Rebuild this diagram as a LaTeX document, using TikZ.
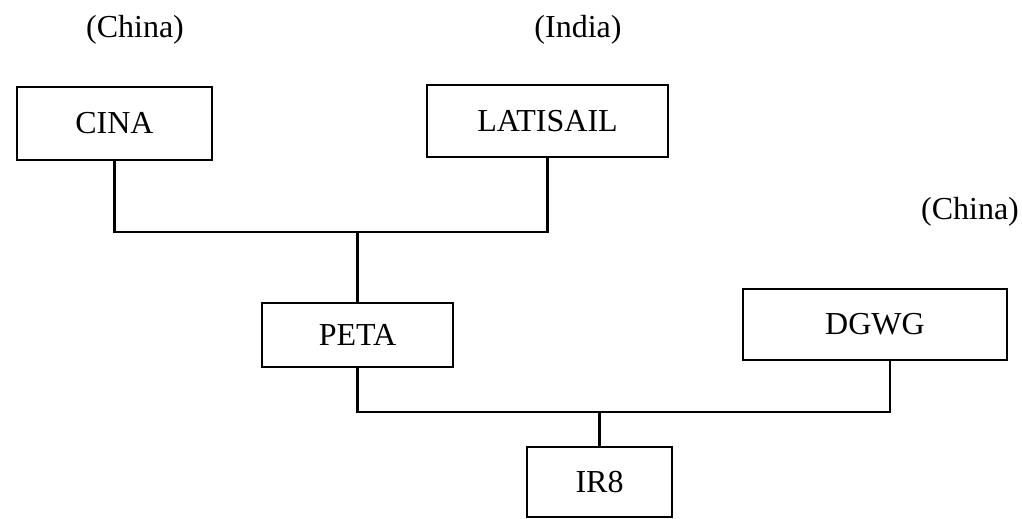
\documentclass[tikz,border=0pt]{standalone}
\usepackage{fontspec}
\setmainfont{Liberation Serif}
\usepackage{tikz}
\tikzset{
    variety/.style={rectangle, draw, line width=2.2pt, inner sep=0pt, text centered, font=\fontsize{32}{38}\selectfont},
    origin/.style={inner sep=0pt, text centered, font=\fontsize{32}{38}\selectfont},
    link/.style={line width=2.2pt}
}
\begin{document}
\begin{tikzpicture}[x=1pt, y=-1pt]
    \useasboundingbox (0,0) rectangle (1022,519);
    % Parents of PETA
    \node[variety, minimum width=195pt, minimum height=73pt] (cina) at (114.5,123.5) {CINA};
    \node[variety, minimum width=241pt, minimum height=72pt] (latisail) at (547.5,121) {LATISAIL};
    \node[origin] (cinaorigin) at (135,30) {(China)};
    \node[origin] (latisailorigin) at (578,30) {(India)};

    % Parents of IR8
    \node[variety, minimum width=191pt, minimum height=64pt] (peta) at (357.5,335) {PETA};
    \node[variety, minimum width=264pt, minimum height=71pt] (dgwg) at (875,324.5) {DGWG};
    \node[origin] (dgwgorigin) at (970,212) {(China)};

    % Offspring
    \node[variety, minimum width=145pt, minimum height=70pt] (ir8) at (599.5,482) {IR8};

    % Crosses
    \coordinate (cross1) at (357.5,232);
    \coordinate (cross2) at (599.5,412);
    \draw[link] (cina.south) |- (cross1) -| (latisail.south);
    \draw[link] (cross1) -- (peta.north);
    \draw[link] (peta.south) |- (cross2) -| ([xshift=15pt]dgwg.south);
    \draw[link] (cross2) -- (ir8.north);
\end{tikzpicture}
\end{document}
